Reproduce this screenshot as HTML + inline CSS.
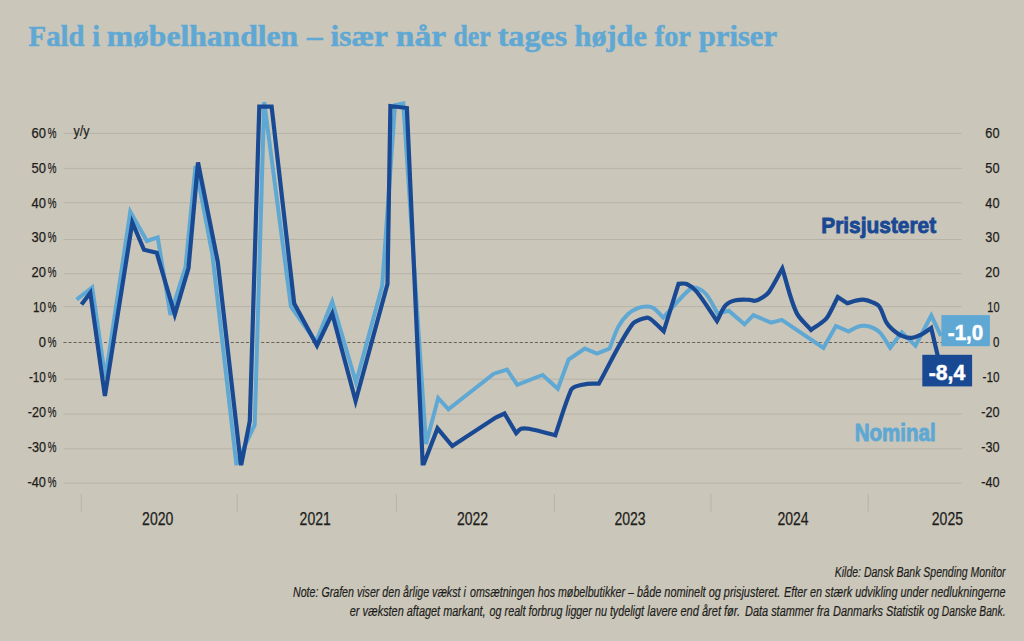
<!DOCTYPE html>
<html><head><meta charset="utf-8"><title>Fald i møbelhandlen</title>
<style>
html,body{margin:0;padding:0;background:#cac6b9;}
body{width:1024px;height:641px;overflow:hidden;font-family:"Liberation Sans",sans-serif;}
svg{display:block;}
text{font-family:"Liberation Sans",sans-serif;}
.t text{font-family:"Liberation Serif",serif;font-weight:bold;font-size:30px;fill:#5fa8d4;stroke:#5fa8d4;stroke-width:0.5px;}
</style></head><body>
<svg width="1024" height="641" viewBox="0 0 1024 641">
<defs><clipPath id="cp"><rect x="60" y="95" width="920" height="370.6"/></clipPath></defs>
<rect width="1024" height="641" fill="#cac6b9"/>
<g class="t">
<text x="28.6" y="46" textLength="55.9" lengthAdjust="spacingAndGlyphs">Fald</text>
<text x="92.3" y="46" textLength="7.8" lengthAdjust="spacingAndGlyphs">i</text>
<text x="106.7" y="46" textLength="191.4" lengthAdjust="spacingAndGlyphs">møbelhandlen</text>
<text x="307.1" y="46" textLength="15.6" lengthAdjust="spacingAndGlyphs">–</text>
<text x="330.5" y="46" textLength="57.5" lengthAdjust="spacingAndGlyphs">især</text>
<text x="395.8" y="46" textLength="50.3" lengthAdjust="spacingAndGlyphs">når</text>
<text x="453.5" y="46" textLength="37.1" lengthAdjust="spacingAndGlyphs">der</text>
<text x="497.7" y="46" textLength="69.5" lengthAdjust="spacingAndGlyphs">tages</text>
<text x="574.6" y="46" textLength="72.3" lengthAdjust="spacingAndGlyphs">højde</text>
<text x="654.7" y="46" textLength="36.3" lengthAdjust="spacingAndGlyphs">for</text>
<text x="698.8" y="46" textLength="78.2" lengthAdjust="spacingAndGlyphs">priser</text>
</g>
<line x1="63.7" y1="133.4" x2="961.7" y2="133.4" stroke="#b7b3a8" stroke-width="1"/>
<line x1="63.7" y1="168.4" x2="961.7" y2="168.4" stroke="#b7b3a8" stroke-width="1"/>
<line x1="63.7" y1="202.7" x2="961.7" y2="202.7" stroke="#b7b3a8" stroke-width="1"/>
<line x1="63.7" y1="239.5" x2="961.7" y2="239.5" stroke="#b7b3a8" stroke-width="1"/>
<line x1="63.7" y1="273.7" x2="961.7" y2="273.7" stroke="#b7b3a8" stroke-width="1"/>
<line x1="63.7" y1="306.6" x2="961.7" y2="306.6" stroke="#b7b3a8" stroke-width="1"/>
<line x1="63.4" y1="342.5" x2="962" y2="342.5" stroke="#66635b" stroke-width="1" stroke-dasharray="3.1,1.97"/>
<line x1="63.7" y1="379.2" x2="961.7" y2="379.2" stroke="#b7b3a8" stroke-width="1"/>
<line x1="63.7" y1="414.1" x2="961.7" y2="414.1" stroke="#b7b3a8" stroke-width="1"/>
<line x1="63.7" y1="448.8" x2="961.7" y2="448.8" stroke="#b7b3a8" stroke-width="1"/>
<line x1="63.7" y1="483.1" x2="961.7" y2="483.1" stroke="#b7b3a8" stroke-width="1"/>
<line x1="81.3" y1="494" x2="81.3" y2="511.5" stroke="#b7b3a8" stroke-width="1"/>
<line x1="237.2" y1="494" x2="237.2" y2="511.5" stroke="#b7b3a8" stroke-width="1"/>
<line x1="396.4" y1="494" x2="396.4" y2="511.5" stroke="#b7b3a8" stroke-width="1"/>
<line x1="554.4" y1="494" x2="554.4" y2="511.5" stroke="#b7b3a8" stroke-width="1"/>
<line x1="711" y1="494" x2="711" y2="511.5" stroke="#b7b3a8" stroke-width="1"/>
<line x1="868.2" y1="494" x2="868.2" y2="511.5" stroke="#b7b3a8" stroke-width="1"/>
<g font-size="15.2" fill="#1d1d1b" stroke="#1d1d1b" stroke-width="0.25">
<text x="45.9" y="137.7" text-anchor="end" textLength="14.4" lengthAdjust="spacingAndGlyphs">60</text>
<text x="47.8" y="137.7" textLength="8.7" lengthAdjust="spacingAndGlyphs">%</text>
<text x="999.5" y="137.7" text-anchor="end" textLength="14.2" lengthAdjust="spacingAndGlyphs">60</text>
<text x="45.9" y="172.6" text-anchor="end" textLength="14.4" lengthAdjust="spacingAndGlyphs">50</text>
<text x="47.8" y="172.6" textLength="8.7" lengthAdjust="spacingAndGlyphs">%</text>
<text x="999.5" y="172.6" text-anchor="end" textLength="14.2" lengthAdjust="spacingAndGlyphs">50</text>
<text x="45.9" y="207.5" text-anchor="end" textLength="14.4" lengthAdjust="spacingAndGlyphs">40</text>
<text x="47.8" y="207.5" textLength="8.7" lengthAdjust="spacingAndGlyphs">%</text>
<text x="999.5" y="207.5" text-anchor="end" textLength="14.2" lengthAdjust="spacingAndGlyphs">40</text>
<text x="45.9" y="242.4" text-anchor="end" textLength="14.4" lengthAdjust="spacingAndGlyphs">30</text>
<text x="47.8" y="242.4" textLength="8.7" lengthAdjust="spacingAndGlyphs">%</text>
<text x="999.5" y="242.4" text-anchor="end" textLength="14.2" lengthAdjust="spacingAndGlyphs">30</text>
<text x="45.9" y="277.3" text-anchor="end" textLength="14.4" lengthAdjust="spacingAndGlyphs">20</text>
<text x="47.8" y="277.3" textLength="8.7" lengthAdjust="spacingAndGlyphs">%</text>
<text x="999.5" y="277.3" text-anchor="end" textLength="14.2" lengthAdjust="spacingAndGlyphs">20</text>
<text x="45.9" y="312.2" text-anchor="end" textLength="13" lengthAdjust="spacingAndGlyphs">10</text>
<text x="47.8" y="312.2" textLength="8.7" lengthAdjust="spacingAndGlyphs">%</text>
<text x="999.5" y="312.2" text-anchor="end" textLength="12.2" lengthAdjust="spacingAndGlyphs">10</text>
<text x="45.9" y="347.1" text-anchor="end" textLength="7.2" lengthAdjust="spacingAndGlyphs">0</text>
<text x="47.8" y="347.1" textLength="8.7" lengthAdjust="spacingAndGlyphs">%</text>
<text x="999.5" y="347.1" text-anchor="end" textLength="6.4" lengthAdjust="spacingAndGlyphs">0</text>
<text x="45.9" y="382.0" text-anchor="end" textLength="17" lengthAdjust="spacingAndGlyphs">-10</text>
<text x="47.8" y="382.0" textLength="8.7" lengthAdjust="spacingAndGlyphs">%</text>
<text x="999.5" y="382.0" text-anchor="end" textLength="17" lengthAdjust="spacingAndGlyphs">-10</text>
<text x="45.9" y="416.9" text-anchor="end" textLength="18.2" lengthAdjust="spacingAndGlyphs">-20</text>
<text x="47.8" y="416.9" textLength="8.7" lengthAdjust="spacingAndGlyphs">%</text>
<text x="999.5" y="416.9" text-anchor="end" textLength="18.3" lengthAdjust="spacingAndGlyphs">-20</text>
<text x="45.9" y="451.8" text-anchor="end" textLength="18.2" lengthAdjust="spacingAndGlyphs">-30</text>
<text x="47.8" y="451.8" textLength="8.7" lengthAdjust="spacingAndGlyphs">%</text>
<text x="999.5" y="451.8" text-anchor="end" textLength="18.3" lengthAdjust="spacingAndGlyphs">-30</text>
<text x="45.9" y="486.7" text-anchor="end" textLength="18.4" lengthAdjust="spacingAndGlyphs">-40</text>
<text x="47.8" y="486.7" textLength="8.7" lengthAdjust="spacingAndGlyphs">%</text>
<text x="999.5" y="486.7" text-anchor="end" textLength="18.3" lengthAdjust="spacingAndGlyphs">-40</text>
</g>
<text x="73.5" y="136.3" font-size="15" fill="#1d1d1b" stroke="#1d1d1b" stroke-width="0.2" textLength="16" lengthAdjust="spacingAndGlyphs">y/y</text>
<text x="157.7" y="525.4" font-size="17.6" fill="#1d1d1b" stroke="#1d1d1b" stroke-width="0.25" text-anchor="middle" textLength="31.2" lengthAdjust="spacingAndGlyphs">2020</text>
<text x="315.2" y="525.4" font-size="17.6" fill="#1d1d1b" stroke="#1d1d1b" stroke-width="0.25" text-anchor="middle" textLength="31.2" lengthAdjust="spacingAndGlyphs">2021</text>
<text x="472.5" y="525.4" font-size="17.6" fill="#1d1d1b" stroke="#1d1d1b" stroke-width="0.25" text-anchor="middle" textLength="31.2" lengthAdjust="spacingAndGlyphs">2022</text>
<text x="630" y="525.4" font-size="17.6" fill="#1d1d1b" stroke="#1d1d1b" stroke-width="0.25" text-anchor="middle" textLength="31.2" lengthAdjust="spacingAndGlyphs">2023</text>
<text x="793" y="525.4" font-size="17.6" fill="#1d1d1b" stroke="#1d1d1b" stroke-width="0.25" text-anchor="middle" textLength="31.2" lengthAdjust="spacingAndGlyphs">2024</text>
<text x="947.4" y="525.4" font-size="17.6" fill="#1d1d1b" stroke="#1d1d1b" stroke-width="0.25" text-anchor="middle" textLength="31.2" lengthAdjust="spacingAndGlyphs">2025</text>
<g clip-path="url(#cp)" fill="none" stroke-linejoin="miter" stroke-miterlimit="4">
<path d="M76.6,299.6L92.2,287.5L105.3,378L130.3,211.8L146.9,241L157.7,237.3L170.4,315L185.5,267.2L195.5,166L212.4,254.7L236.3,464L254.7,424.7L264.2,102L290.9,306.5L316,342L332.2,301.5L356,382.5L382.2,286L395,105.2L403.3,103.5L426,444L438.2,398L448.4,409.3L493.8,373.7L507,369.5L517.2,384.8L542.6,375L557.8,388.7L568.6,359.5L584.8,348.5L596.9,353.5L609.6,348.5C612.5,341.3 614.7,333.5 618.4,326.6C620.9,322.0 624.3,317.6 628.1,314C630.8,311.4 634.4,309.5 637.9,308.1C640.6,307.0 643.7,306.5 646.7,306.5C649.0,306.5 651.6,306.8 653.5,308.1C657.2,310.6 660.1,314.5 663.3,317.6C672.3,308.0 680.5,297.0 690.6,288.6C692.6,287.0 696.0,287.7 698.4,288.6C701.4,289.7 704.3,291.8 706.3,294.4C710.8,300.2 713.9,307.2 717.6,313.5L728.7,310.8L744.5,324.3L753.4,315.1L771,322.7L781.8,319.8L823.4,348L835.9,326L848.8,331.5C851.5,330.0 854.1,328.1 857,327.1C859.5,326.2 862.2,325.6 864.8,325.8C867.8,326.0 870.9,326.8 873.6,328.1C876.1,329.3 878.6,330.9 880.4,333C884.2,337.5 887.0,342.9 890.2,347.8L901.8,332.3L915.5,345.8L931.3,315.6L941,336" stroke="#5fa8d4" stroke-width="4"/>
<path d="M81.5,304.5L90.3,292.8L104.9,396L132.3,222.5L144,249.8L156.7,252.7L174.8,314.5L188.5,268L198,162.5L217.8,262L241,466L249.8,421L259.3,106.6L271.6,106.6L294.2,303.5L317,345.5L332.2,313.5L355.6,401L387.5,284L390.4,106L406.9,108L422.8,466.4L437.5,428.4L452.3,446L495.7,417.6L504.5,413.5L516.2,433.2C517.8,431.7 519.0,429.5 521,428.8C523.5,427.9 526.3,428.3 528.9,428.8C537.7,430.4 546.6,433.1 555.3,435.2C560.4,420.4 564.8,404.8 570.9,390.3C571.7,388.4 573.9,387.2 575.8,386.4C579.5,385.0 583.6,384.3 587.5,383.8C591.2,383.4 595.1,383.7 598.8,383.7C609.8,364.2 619.0,342.9 632,324.7C634.9,320.6 640.9,319.3 645.7,317.9C647.3,317.4 649.3,318.2 650.6,319.2C655.3,322.7 659.4,327.3 663.7,331.3L678.5,283.8C681.2,283.9 684.2,282.9 686.7,284C690.4,285.6 693.9,288.3 696.5,291.5C704.0,300.7 710.2,311.3 717,321C719.9,315.8 721.8,309.6 725.8,305.2C728.2,302.5 732.0,301.1 735.5,300.3C740.0,299.3 744.9,299.7 749.5,299.8C751.3,299.8 753.2,301.2 755,300.8C757.9,300.2 760.7,298.5 763.2,296.9C765.3,295.6 767.6,294.1 769,292C774.0,284.6 777.9,276.3 782.3,268.5C787.0,283.0 790.0,298.7 796.4,312.5C799.6,319.3 806.2,324.2 811,330C815.9,326.5 821.3,323.4 825.7,319.3C827.9,317.2 829.2,314.2 830.6,311.5C833.1,306.8 835.4,301.8 837.8,297L847.2,303.2C850.4,302.3 853.7,301.0 857,300.4C859.5,299.9 862.2,299.5 864.8,299.8C867.5,300.1 870.1,301.2 872.6,302.3C875.0,303.4 877.9,304.4 879.4,306.6C882.6,311.3 883.5,317.4 886.3,322.3C887.7,324.9 889.9,327.2 892.1,329.1C895.1,331.7 898.3,334.3 901.9,335.9C904.9,337.2 908.3,338.1 911.6,337.9C914.7,337.8 917.6,336.2 920.4,335C922.4,334.1 924.2,332.8 926,331.6C927.8,330.5 929.5,329.2 931.2,328L937.8,356" stroke="#1a4994" stroke-width="4.2"/>
</g>
<text x="821.2" y="232.6" font-size="22.9" font-weight="bold" fill="#1a4994" stroke="#1a4994" stroke-width="0.9" textLength="115" lengthAdjust="spacingAndGlyphs">Prisjusteret</text>
<text x="854.7" y="441.4" font-size="23.2" font-weight="bold" fill="#5fa8d4" stroke="#5fa8d4" stroke-width="0.9" textLength="80.9" lengthAdjust="spacingAndGlyphs">Nominal</text>
<rect x="941.4" y="315.1" width="48.5" height="31.1" fill="#5fa8d4"/>
<text x="947.8" y="339.9" font-size="22.3" font-weight="bold" fill="#fff" stroke="#fff" stroke-width="0.5" textLength="35.5" lengthAdjust="spacingAndGlyphs">-1,0</text>
<rect x="922.3" y="354.8" width="49.8" height="31.6" fill="#1a4994"/>
<text x="928.7" y="380.3" font-size="22.3" font-weight="bold" fill="#fff" stroke="#fff" stroke-width="0.5" textLength="36.5" lengthAdjust="spacingAndGlyphs">-8,4</text>
<g font-style="italic" font-size="14.2" fill="#1d1d1b" stroke="#1d1d1b" stroke-width="0.2">
<text x="834.8" y="577.3" textLength="170.7" lengthAdjust="spacingAndGlyphs">Kilde: Dansk Bank Spending Monitor</text>
<text x="293" y="596.5" textLength="172.8" lengthAdjust="spacingAndGlyphs">Note: Grafen viser den årlige vækst i</text>
<text x="470" y="596.5" textLength="164.0" lengthAdjust="spacingAndGlyphs">omsætningen hos møbelbutikker –</text>
<text x="637" y="596.5" textLength="143.3" lengthAdjust="spacingAndGlyphs">både nominelt og prisjusteret.</text>
<text x="784" y="596.5" textLength="221.5" lengthAdjust="spacingAndGlyphs">Efter en stærk udvikling under nedlukningerne</text>
<text x="349.8" y="615.8" textLength="135.8" lengthAdjust="spacingAndGlyphs">er væksten aftaget markant,</text>
<text x="489.6" y="615.8" textLength="154.4" lengthAdjust="spacingAndGlyphs">og realt forbrug ligger nu tydeligt</text>
<text x="647.3" y="615.8" textLength="92.9" lengthAdjust="spacingAndGlyphs">lavere end året før.</text>
<text x="745" y="615.8" textLength="84.5" lengthAdjust="spacingAndGlyphs">Data stammer fra</text>
<text x="833" y="615.8" textLength="91.2" lengthAdjust="spacingAndGlyphs">Danmarks Statistik</text>
<text x="927.6" y="615.8" textLength="77.9" lengthAdjust="spacingAndGlyphs">og Danske Bank.</text>
</g>
</svg></body></html>
